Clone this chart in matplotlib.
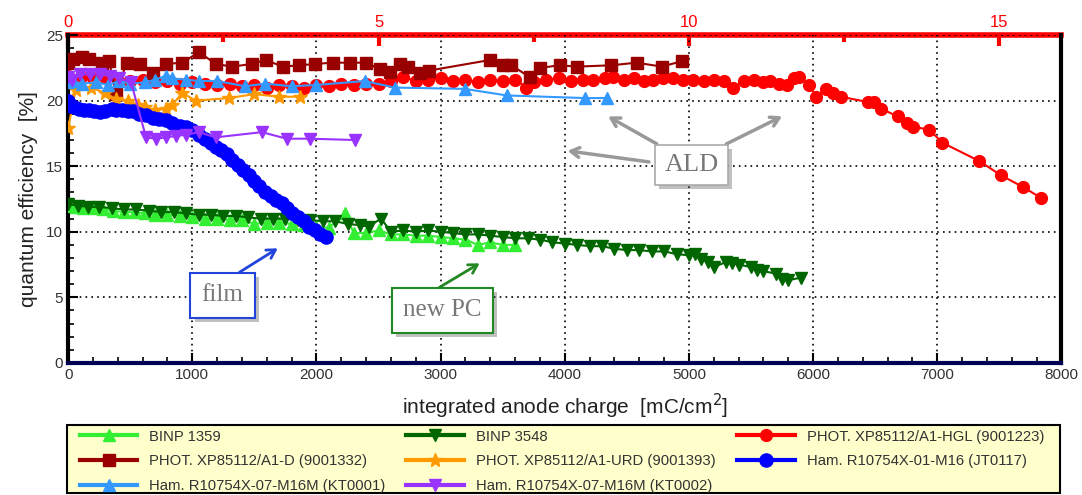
import numpy as np
import matplotlib.pyplot as plt
from matplotlib.patches import Rectangle
from matplotlib.patheffects import SimplePatchShadow, Normal

plt.rcParams['font.family'] = ['Liberation Sans', 'DejaVu Sans']

# ---- data ----
binp1359_x = [0, 60, 120, 200, 280, 360, 450, 540, 620, 700, 800, 900, 1000, 1100, 1200, 1300, 1400,
              1500, 1600, 1700, 1800, 1900, 2000, 2100, 2230, 2300, 2400, 2500, 2600, 2700, 2800,
              2900, 3000, 3100, 3200, 3300, 3400, 3500, 3600]
binp1359_y = [12.0, 11.9, 11.8, 11.8, 11.7, 11.6, 11.5, 11.5, 11.4, 11.3, 11.3, 11.2, 11.1, 11.0,
              11.0, 10.9, 10.9, 10.6, 10.7, 10.7, 10.6, 10.5, 10.4, 10.3, 11.4, 9.9, 9.9, 10.1, 9.8,
              9.8, 9.7, 9.7, 9.6, 9.5, 9.4, 9.0, 9.2, 9.0, 9.0]

binp3548_x = [0, 80, 160, 250, 350, 450, 550, 650, 750, 850, 950, 1050, 1150, 1250, 1350, 1450,
              1550, 1650, 1750, 1850, 1950, 2050, 2150, 2250, 2350, 2420, 2520, 2600, 2700, 2800,
              2900, 3000, 3100, 3200, 3300, 3400, 3500, 3600, 3700, 3800, 3900, 4000, 4100, 4200,
              4300, 4400, 4500, 4600, 4700, 4800, 4900, 5000, 5050, 5100, 5150, 5200, 5300, 5350,
              5400, 5500, 5550, 5600, 5700, 5750, 5800, 5900]
binp3548_y = [12.1, 12.0, 11.9, 11.9, 11.8, 11.7, 11.7, 11.6, 11.5, 11.5, 11.4, 11.3, 11.3, 11.2,
              11.2, 11.1, 11.0, 11.0, 11.0, 10.9, 10.9, 10.8, 10.8, 10.6, 10.5, 10.4, 11.0, 10.0,
              10.1, 10.0, 10.1, 10.0, 9.9, 9.8, 9.8, 9.7, 9.6, 9.5, 9.5, 9.4, 9.2, 9.1, 9.0, 8.9,
              8.9, 8.7, 8.6, 8.6, 8.5, 8.5, 8.3, 8.2, 8.3, 7.9, 7.7, 7.3, 7.7, 7.6, 7.5, 7.3, 7.1,
              7.0, 6.8, 6.4, 6.3, 6.5]

hgl_x = [0, 100, 200, 300, 400, 500, 600, 700, 800, 900, 1000, 1100, 1200, 1300, 1400, 1500, 1600,
         1700, 1800, 1900, 2000, 2100, 2200, 2300, 2400, 2500, 2600, 2700, 2800, 2900, 3000, 3100,
         3200, 3300, 3400, 3500, 3600, 3690, 3750, 3850, 3950, 4050, 4150, 4230, 4320, 4390, 4480,
         4560, 4640, 4712, 4790, 4873, 4950, 5034, 5120, 5200, 5280, 5356, 5440, 5520, 5597, 5650,
         5728, 5790, 5849, 5889, 5970, 6023, 6103, 6160, 6224, 6438, 6490, 6546, 6680, 6760, 6806,
         6935, 7040, 7337, 7515, 7692, 7833]
hgl_y = [21.9, 21.8, 21.7, 21.8, 21.6, 21.5, 21.6, 21.4, 21.5, 21.3, 21.4, 21.3, 21.2, 21.3, 21.1,
         21.2, 21.0, 21.2, 21.1, 21.0, 21.2, 21.1, 21.3, 21.2, 21.3, 21.3, 21.5, 21.8, 21.5, 21.6,
         21.7, 21.5, 21.6, 21.4, 21.6, 21.5, 21.6, 21.0, 21.4, 21.6, 21.7, 21.5, 21.6, 21.6, 21.7,
         21.8, 21.6, 21.7, 21.5, 21.6, 21.7, 21.7, 21.6, 21.6, 21.5, 21.6, 21.5, 21.0, 21.5, 21.6,
         21.4, 21.5, 21.3, 21.2, 21.7, 21.8, 21.2, 20.3, 20.9, 20.6, 20.3, 19.9, 19.9, 19.4, 18.8,
         18.3, 18.0, 17.8, 16.8, 15.4, 14.3, 13.4, 12.6]

a1d_x = [0, 40, 110, 170, 270, 330, 387, 470, 580, 680, 790, 920, 1053, 1190, 1320, 1480, 1590,
         1730, 1860, 1990, 2130, 2270, 2400, 2510, 2590, 2671, 2740, 2832, 2910, 3395, 3500, 3570,
         3717, 3800, 3958, 4100, 4376, 4578, 4779, 4940]
a1d_y = [22.9, 23.2, 23.3, 23.2, 22.9, 23.0, 20.5, 22.9, 22.8, 22.1, 22.8, 22.9, 23.7, 22.8, 22.6,
         22.8, 23.1, 22.6, 22.7, 22.8, 22.9, 22.9, 22.9, 22.4, 22.2, 22.8, 22.6, 22.1, 22.3, 23.1,
         22.7, 22.7, 21.8, 22.5, 22.7, 22.6, 22.7, 22.9, 22.6, 23.0]

urd_x = [0, 60, 180, 300, 387, 480, 560, 620, 700, 787, 840, 920, 1027, 1293, 1500, 1700, 1867]
urd_y = [17.9, 20.8, 21.0, 20.6, 20.1, 20.0, 19.7, 19.5, 19.3, 19.4, 19.7, 20.6, 20.0, 20.2, 20.5,
         20.3, 20.3]

jt_x = [0, 20, 50, 90, 130, 170, 210, 253, 300, 350, 387, 430, 480, 520, 570, 627, 680, 730, 787,
        840, 900, 947, 1000, 1053, 1100, 1150, 1187, 1230, 1280, 1320, 1370, 1410, 1453, 1500, 1540,
        1587, 1630, 1670, 1720, 1760, 1800, 1853, 1900, 1940, 1987, 2030, 2080]
jt_y = [20.0, 19.6, 19.5, 19.4, 19.3, 19.3, 19.2, 19.1, 19.2, 19.4, 19.3, 19.3, 19.2, 19.2, 19.0,
        18.9, 18.7, 18.6, 18.5, 18.3, 18.1, 18.0, 17.8, 17.4, 17.1, 16.8, 16.5, 16.2, 15.9, 15.5,
        15.1, 14.7, 14.3, 13.9, 13.5, 13.0, 12.7, 12.4, 12.2, 11.8, 11.4, 11.1, 10.8, 10.4, 10.1,
        9.8, 9.6]

kt1_x = [0, 40, 110, 227, 320, 413, 500, 620, 700, 787, 840, 947, 1053, 1200, 1427, 1587, 1800,
         2000, 2387, 2630, 3194, 3532, 4160, 4336]
kt1_y = [21.4, 21.5, 21.3, 21.4, 21.2, 21.5, 21.3, 21.4, 21.6, 21.9, 21.7, 21.6, 21.5, 21.5, 21.1,
         21.3, 21.1, 21.2, 21.5, 21.0, 20.9, 20.4, 20.2, 20.2]

kt2_x = [0, 27, 93, 173, 253, 333, 413, 507, 627, 707, 787, 867, 947, 1053, 1187, 1560, 1760, 1947,
         2307]
kt2_y = [21.8, 21.6, 22.0, 22.0, 22.0, 21.9, 21.7, 21.4, 17.2, 17.1, 17.2, 17.3, 17.4, 17.6, 17.2,
         17.6, 17.1, 17.1, 17.0]

fig = plt.figure(figsize=(10.82, 4.95), dpi=100)
ax = fig.add_axes([0.063, 0.267, 0.918, 0.662])

h_1359, = ax.plot(binp1359_x, binp1359_y, '-^', color='#33ee33', ms=8.5, lw=1.5, label='BINP 1359', zorder=3)
h_3548, = ax.plot(binp3548_x, binp3548_y, '-v', color='#006600', ms=8.5, lw=1.5, label='BINP 3548', zorder=3)
h_hgl, = ax.plot(hgl_x, hgl_y, '-o', color='#ff0000', ms=8.5, lw=1.5, label='PHOT. XP85112/A1-HGL (9001223)', zorder=3)
h_a1d, = ax.plot(a1d_x, a1d_y, '-s', color='#990000', ms=8, lw=1.5, label='PHOT. XP85112/A1-D (9001332)', zorder=4)
h_urd, = ax.plot(urd_x, urd_y, '-*', color='#ff9900', ms=10, lw=1.5, label='PHOT. XP85112/A1-URD (9001393)', zorder=4)
h_kt1, = ax.plot(kt1_x, kt1_y, '-^', color='#3399ff', ms=9, lw=1.5, label='Ham. R10754X-07-M16M (KT0001)', zorder=5)
h_jt, = ax.plot(jt_x, jt_y, '-o', color='#0000ff', ms=9.5, lw=1.5, label='Ham. R10754X-01-M16 (JT0117)', zorder=5)
h_kt2, = ax.plot(kt2_x, kt2_y, '-v', color='#9933ff', ms=9, lw=1.5, label='Ham. R10754X-07-M16M (KT0002)', zorder=6)

ax.set_xlim(0, 8000)
ax.set_ylim(0, 25)
ax.set_xticks(np.arange(0, 8001, 1000))
ax.set_xticks(np.arange(0, 8001, 200), minor=True)
ax.set_yticks(np.arange(0, 26, 5))
ax.set_yticks(np.arange(0, 26, 1), minor=True)
ax.grid(True, which='major', color='black', linestyle=(0, (1, 2.5)), lw=1.2)
ax.tick_params(which='both', direction='in', top=False, right=False, labelsize=11, labelcolor='#333333')
ax.tick_params(which='major', length=7, width=1.5)
ax.tick_params(which='minor', length=4, width=1.2)

ax.spines['left'].set_linewidth(3)
ax.spines['right'].set_linewidth(3)
ax.spines['bottom'].set_linewidth(3)
ax.spines['bottom'].set_color('#000055')
ax.spines['top'].set_visible(False)

top = ax.secondary_xaxis('top', functions=(lambda v: v / 500, lambda v: v * 500))
top.set_xticks([0, 5, 10, 15])
top.set_xticks([2.5, 7.5, 12.5], minor=True)
top.spines['top'].set_color('#ff0000')
top.spines['top'].set_linewidth(4)
top.tick_params(which='both', direction='in', colors='#ff0000', labelsize=12)
top.tick_params(which='major', length=8, width=3)
top.tick_params(which='minor', length=5, width=3)

ax.set_xlabel('integrated anode charge  [mC/cm$^2$]', fontsize=15, color='#222222', labelpad=7)
ax.set_ylabel('quantum efficiency  [%]', fontsize=15, color='#222222', labelpad=6)

# annotations
serif = ['Liberation Serif', 'DejaVu Serif']
shadow = [SimplePatchShadow(offset=(3, -3), alpha=0.35), Normal()]
head = '->,head_length=0.6,head_width=0.35'

t = ax.text(5020, 15.1, 'ALD', fontsize=19, family=serif, color='#777777', ha='center', va='center', zorder=10,
            bbox=dict(boxstyle='square,pad=0.35', fc='white', ec='#aaaaaa', lw=1.2))
t.get_bbox_patch().set_path_effects(shadow)
for tx, ty, sx, sy in [(4000, 16.2, 4700, 15.3), (4330, 18.9, 4760, 16.6), (5770, 18.9, 5280, 16.6)]:
    ax.annotate('', xy=(tx, ty), xytext=(sx, sy),
                arrowprops=dict(arrowstyle=head, color='#999999', lw=2.5), zorder=9)

t = ax.text(1244, 5.15, 'film', fontsize=18, family=serif, color='#777777', ha='center', va='center', zorder=10,
            bbox=dict(boxstyle='square,pad=0.45', fc='white', ec='#2244dd', lw=1.5))
t.get_bbox_patch().set_path_effects(shadow)
ax.annotate('', xy=(1707, 8.85), xytext=(1361, 6.8),
            arrowprops=dict(arrowstyle=head, color='#2244dd', lw=2), zorder=9)

t = ax.text(3015, 4.0, 'new PC', fontsize=18, family=serif, color='#777777', ha='center', va='center', zorder=10,
            bbox=dict(boxstyle='square,pad=0.45', fc='white', ec='#228822', lw=1.5))
t.get_bbox_patch().set_path_effects(shadow)
ax.annotate('', xy=(3333, 7.7), xytext=(2971, 5.65),
            arrowprops=dict(arrowstyle=head, color='#228822', lw=2), zorder=9)

# legend frame drawn separately so the entries can sit freely inside it
fig.add_artist(Rectangle((0.062, 0.005), 0.918, 0.137, transform=fig.transFigure,
                         facecolor='#ffffcc', edgecolor='black', lw=1.5, zorder=1))

# legend: matplotlib fills column-major, so order by column
handles = [h_1359, h_a1d, h_kt1, h_3548, h_urd, h_kt2, h_hgl, h_jt]
leg = fig.legend(handles=handles, labels=[h.get_label() for h in handles], ncol=3,
                 loc='upper left', bbox_to_anchor=(0.0735, 0.132),
                 fontsize=10.7, frameon=False, borderaxespad=0, borderpad=0,
                 handlelength=3.9, handletextpad=0.8, columnspacing=1.4, labelspacing=0.72)
leg.set_zorder(2)
for text in leg.get_texts():
    text.set_color('#333333')
for line in leg.get_lines():
    line.set_linewidth(3)

fig.savefig('out.png', dpi=100)
